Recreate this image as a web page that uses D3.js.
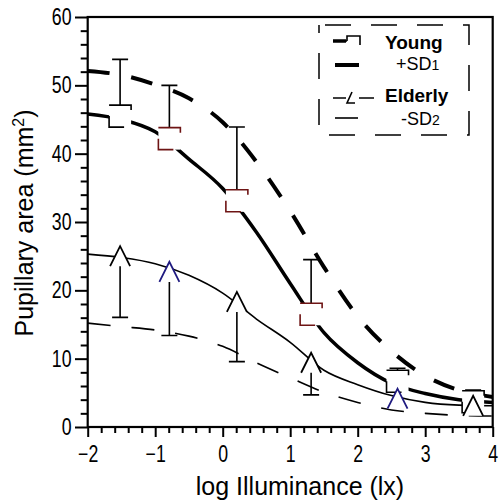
<!DOCTYPE html>
<html>
<head>
<meta charset="utf-8">
<script src="https://cdn.jsdelivr.net/npm/d3@7"></script>
<style>
  body { margin: 0; background: #fff; }
  svg { display: block; }
  .tick text { font-family: "Liberation Sans", Arial, sans-serif; font-size: 23px; fill: #000; }
</style>
</head>
<body>
<svg id="chart" width="500" height="501"></svg>
<script>
// curves, sampled along log illuminance
var xGrid = [-2, -1.5, -1, -0.5, 0, 0.5, 1, 1.5, 2, 2.5, 3, 3.5, 4]
var youngMean = [45.8, 45.0, 43.2, 39.2, 34.9, 28.5, 21.0, 13.8, 9.4, 6.4, 4.9, 4.0, 3.6]
var youngPlusSD = [52.1, 51.5, 50.1, 48.1, 44.6, 38.8, 31.6, 23.4, 16.2, 11.1, 7.5, 5.4, 4.4]
var elderlyMean = [25.3, 24.8, 23.9, 22.2, 19.6, 15.8, 12.4, 8.3, 6.2, 4.6, 3.6, 3.2, 3.1]
var elderlyMinusSD = [15.2, 14.7, 14.2, 13.3, 11.8, 9.4, 7.2, 5.1, 3.6, 2.5, 2.0, 1.7, 1.6]

// measured points
var ptX = [-1.52, -0.79, 0.21, 1.31, 2.59, 3.71]
var youngPt = [45.5, 42.2, 33.1, 16.5, 6.7, 3.7]
var youngHi = [53.8, 50.0, 43.9, 24.5, 8.6, 5.4]
var elderlyPt = [25.0, 22.7, 18.3, 9.4, 4.15, 3.1]
var elderlyLo = [16.05, 13.4, 9.56, 4.7, null, null]

var yMajor = [0, 10, 20, 30, 40, 50, 60]
var xMajor = [-2, -1, 0, 1, 2, 3, 4]

var svg = d3.select("#chart")
var pLeft = 87.7, pRight = 492.7, pTop = 17, pBottom = 427

var x = d3.scaleLinear().domain([-2, 4]).range([pLeft, pRight])
var y = d3.scaleLinear().domain([0, 60]).range([pBottom, pTop])

///////// axes
var yMinor = d3.range(0, 61, 2).filter(function(d) { return d % 10 != 0 })
var xMinor = d3.range(-2, 4.001, 0.2).filter(function(d) { return Math.abs(d - Math.round(d)) > 0.01 })
var squeeze = 0.77   // tick labels are a narrow face

svg.append("g").attr("transform", "translate(" + pLeft + ",0)")
   .call(d3.axisLeft(y).tickValues(yMinor).tickSize(7).tickFormat(""))
var yAxis = svg.append("g").attr("transform", "translate(" + pLeft + ",0)")
   .call(d3.axisLeft(y).tickValues(yMajor).tickSize(12.7).tickPadding(3.5))
yAxis.selectAll(".tick text")
   .attr("x", -16.2 / squeeze).attr("transform", "scale(" + squeeze + ",1)")

svg.append("g").attr("transform", "translate(0," + pBottom + ")")
   .call(d3.axisBottom(x).tickValues(xMinor).tickSize(6).tickFormat(""))
var xAxis = svg.append("g").attr("transform", "translate(0," + pBottom + ")")
   .call(d3.axisBottom(x).tickValues(xMajor).tickSize(10).tickPadding(8.5)
         .tickFormat(function(d) { return d < 0 ? "\u2212" + Math.abs(d) : d }))
xAxis.selectAll(".tick text").attr("transform", "scale(" + squeeze + ",1)")

svg.selectAll(".domain").remove()
svg.selectAll(".tick line").attr("stroke", "#000").attr("stroke-width", 2)

// frame
svg.append("rect")
   .attr("x", pLeft).attr("y", pTop)
   .attr("width", pRight - pLeft).attr("height", pBottom - pTop)
   .attr("fill", "none").attr("stroke", "#000").attr("stroke-width", 2.2)

///////// curves
var line = d3.line().x(function(d) { return x(d[0]) }).y(function(d) { return y(d[1]) })
             .curve(d3.curveMonotoneX)
function pairs(vals) { return xGrid.map(function(v, i) { return [v, vals[i]] }) }

var plot = svg.append("g")
plot.append("path").attr("d", line(pairs(youngPlusSD)))
    .attr("fill", "none").attr("stroke", "#000").attr("stroke-width", 4).attr("stroke-dasharray", "22,22")
plot.append("path").attr("d", line(pairs(youngMean)))
    .attr("fill", "none").attr("stroke", "#000").attr("stroke-width", 3.5)
plot.append("path").attr("d", line(pairs(elderlyMean)))
    .attr("fill", "none").attr("stroke", "#000").attr("stroke-width", 1.6)
plot.append("path").attr("d", line(pairs(elderlyMinusSD)))
    .attr("fill", "none").attr("stroke", "#000").attr("stroke-width", 1.6).attr("stroke-dasharray", "23,21")

///////// error bars
var cap = 8
ptX.forEach(function(v, i) {
    var cx = x(v)
    plot.append("path")
        .attr("d", "M" + cx + "," + y(youngPt[i]) + "V" + y(youngHi[i]) + "M" + (cx - cap) + "," + y(youngHi[i]) + "H" + (cx + cap))
        .attr("fill", "none").attr("stroke", "#000").attr("stroke-width", 1.6)
    if (elderlyLo[i] != null) {
        plot.append("path")
            .attr("d", "M" + cx + "," + y(elderlyPt[i]) + "V" + y(elderlyLo[i]) + "M" + (cx - cap) + "," + y(elderlyLo[i]) + "H" + (cx + cap))
            .attr("fill", "none").attr("stroke", "#000").attr("stroke-width", 1.6)
    }
})

///////// markers
var youngInk = ["#000", "#6e1414", "#6e1414", "#6e1414", "#000", "#000"]
var elderlyInk = ["#000", "#1f1a80", "#000", "#000", "#1f1a80", "#000"]

var ym = plot.selectAll(".young").data(ptX).enter().append("g")
    .attr("class", "young")
    .attr("transform", function(d, i) { return "translate(" + x(d) + "," + y(youngPt[i]) + ")" })
ym.append("rect").attr("x", -11).attr("y", -11).attr("width", 22).attr("height", 22).attr("fill", "#fff")
ym.append("path").attr("d", "M-11,0V11H4M-11,-11H11V-6")
  .attr("fill", "none").attr("stroke", function(d, i) { return youngInk[i] }).attr("stroke-width", 1.6)

var em = plot.selectAll(".elderly").data(ptX).enter().append("g")
    .attr("class", "elderly")
    .attr("transform", function(d, i) { return "translate(" + x(d) + "," + y(elderlyPt[i]) + ")" })
em.append("path").attr("d", "M-10,10L0,-10L10,10Z").attr("fill", "#fff")
em.append("path").attr("d", "M-10,10L0,-10L10,10")
  .attr("fill", "none").attr("stroke", function(d, i) { return elderlyInk[i] }).attr("stroke-width", 1.8)

///////// legend
var lg = svg.append("g")
lg.append("rect").attr("x", 319).attr("y", 25).attr("width", 150).attr("height", 110)
  .attr("fill", "#fff").attr("stroke", "#000").attr("stroke-width", 1.5).attr("stroke-dasharray", "26,20")
  .attr("stroke-dashoffset", -6)

lg.append("path").attr("d", "M333,41H347M347,41V36H360V45")
  .attr("fill", "none").attr("stroke", "#000").attr("stroke-width", 1.6)
lg.append("path").attr("d", "M333,41H346").attr("stroke", "#000").attr("stroke-width", 3.5)
lg.append("path").attr("d", "M335,65H359").attr("stroke", "#000").attr("stroke-width", 4)
lg.append("path").attr("d", "M333,98H346M352,92L347,103H355M359,98H374")
  .attr("fill", "none").attr("stroke", "#000").attr("stroke-width", 1.6)
lg.append("path").attr("d", "M335,118H358").attr("stroke", "#000").attr("stroke-width", 1.6)

var lt = lg.append("g").attr("font-family", "'Liberation Sans', Arial, sans-serif").attr("fill", "#000")
lt.append("text").attr("x", 385).attr("y", 49).attr("font-size", 19).attr("font-weight", "bold").text("Young")
var sd1 = lt.append("text").attr("x", 396).attr("y", 70).attr("font-size", 18)
sd1.append("tspan").text("+SD")
sd1.append("tspan").attr("font-size", 14).text("1")
lt.append("text").attr("x", 385).attr("y", 102).attr("font-size", 19).attr("font-weight", "bold").text("Elderly")
var sd2 = lt.append("text").attr("x", 401).attr("y", 125).attr("font-size", 18)
sd2.append("tspan").text("-SD")
sd2.append("tspan").attr("font-size", 14).text("2")

///////// axis titles
var tt = svg.append("g").attr("font-family", "'Liberation Sans', Arial, sans-serif").attr("font-size", 25).attr("fill", "#000")
tt.append("text").attr("x", 300).attr("y", 495).attr("text-anchor", "middle").text("log Illuminance (lx)")
var yt = tt.append("text").attr("transform", "translate(33,223) rotate(-90)").attr("text-anchor", "middle")
yt.append("tspan").text("Pupillary area (mm")
yt.append("tspan").attr("font-size", 16).attr("dy", -9).text("2")
yt.append("tspan").attr("dy", 9).text(")")
</script>
</body>
</html>
